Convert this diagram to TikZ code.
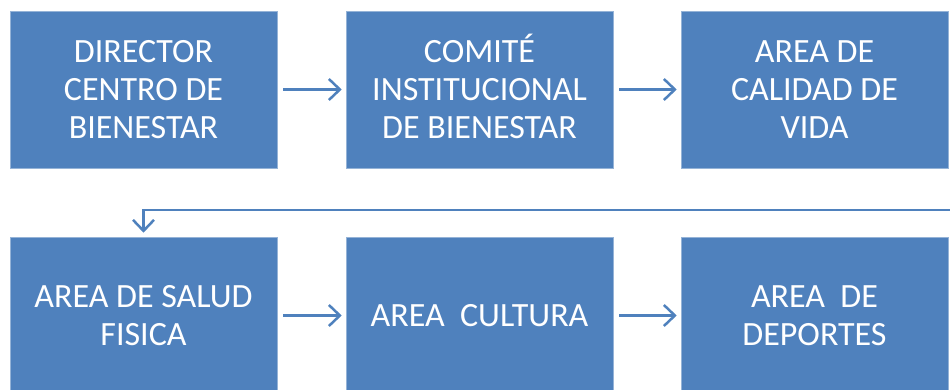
\documentclass[tikz,border=0pt]{standalone}
\usepackage{fontspec}
\setmainfont{Carlito}
\usetikzlibrary{arrows.meta}
\definecolor{boxblue}{HTML}{4F81BD}
\tikzset{
  orgbox/.style={rectangle, fill=boxblue, draw=boxblue!60!white, line width=0.6pt,
    minimum width=267pt, minimum height=157pt, inner sep=0pt, align=center,
    text=white, font=\fontsize{34}{38}\selectfont},
  flow/.style={draw=boxblue, line width=2.5pt, -{Straight Barb[length=11pt,width=21pt,line width=2.5pt]}}
}
\begin{document}
\begin{tikzpicture}[x=1pt,y=-1pt]
\useasboundingbox (0,0) rectangle (950,390);
\clip (0,0) rectangle (950,390);
\node[orgbox] (b1) at (143.5,89.5) {DIRECTOR\\CENTRO DE\\BIENESTAR};
\node[orgbox] (b2) at (479.5,89.5) {COMIT\smash{É}\\INSTITUCIONAL\\DE BIENESTAR};
\node[orgbox] (b3) at (814.5,89.5) {AREA DE\\CALIDAD DE\\VIDA};
\node[orgbox] (b4) at (143.5,315.5) {AREA DE SALUD\\FISICA};
\node[orgbox] (b5) at (479.5,315.5) {AREA\ \ CULTURA};
\node[orgbox] (b6) at (814.5,315.5) {AREA\ \ DE\\DEPORTES};
\coordinate (r) at (960,210);
\draw[flow, shorten <=6pt, shorten >=4pt] (b1) -- (b2);
\draw[flow, shorten <=6pt, shorten >=4pt] (b2) -- (b3);
\draw[flow, shorten <=6pt, shorten >=4pt] (b4) -- (b5);
\draw[flow, shorten <=6pt, shorten >=4pt] (b5) -- (b6);
\draw[flow, shorten >=4pt] (r) -| (b4.north);
\end{tikzpicture}
\end{document}
